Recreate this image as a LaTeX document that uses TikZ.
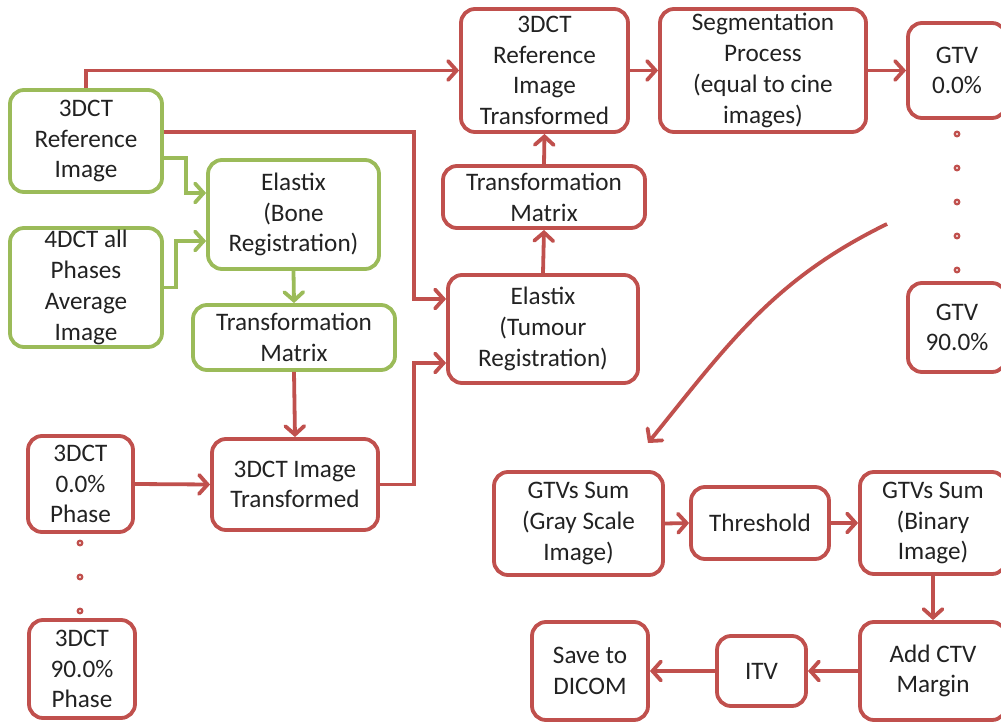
\documentclass[tikz,border=0pt]{standalone}
\usepackage{fontspec}
\setmainfont{Carlito}
\usetikzlibrary{arrows.meta}
\definecolor{cred}{HTML}{C0504D}
\definecolor{cgreen}{HTML}{9BBB59}
\definecolor{ctext}{HTML}{222222}
\tikzset{
  box/.style={draw, rounded corners=14pt, line width=3.8pt, align=center,
    inner sep=0pt, text=ctext, font=\fontsize{25.2}{30.8}\selectfont},
  rbox/.style={box, draw=cred},
  gbox/.style={box, draw=cgreen},
  tip/.style={-{Straight Barb[length=8.5pt,width=19pt,line cap=round]}},
  rarr/.style={tip, draw=cred, line width=3.8pt},
  garr/.style={tip, draw=cgreen, line width=3.8pt},
  dot/.style={draw=cred, fill=white!70!cred, line width=2pt},
}
\begin{document}
\begin{tikzpicture}[x=1pt, y=-1pt]
\useasboundingbox (0,0) rectangle (1001,722);

% registration inputs (bone registration, green)
\node[gbox, minimum width=152pt, minimum height=102pt] (ref) at (86,141) {3DCT\\Reference\\Image};
\node[gbox, minimum width=152pt, minimum height=119pt] (avg) at (86,287.5) {4DCT all\\Phases\\Average\\Image};
\node[gbox, minimum width=171pt, minimum height=109pt] (bone) at (293.5,214.5) {Elastix\\(Bone\\Registration)};
\node[gbox, minimum width=202pt, minimum height=65pt] (tmg) at (294,337.5) {Transformation\\Matrix};

% phase images
\node[rbox, minimum width=105pt, minimum height=96pt] (ph0) at (80.5,484) {3DCT\\0.0\%\\Phase};
\node[rbox, minimum width=106pt, minimum height=98pt] (ph90) at (82,669) {3DCT\\90.0\%\\Phase};
\node[rbox, minimum width=166pt, minimum height=91pt] (imgt) at (295,484.5) {3DCT Image\\Transformed};

% tumour registration
\node[rbox, minimum width=190pt, minimum height=108pt] (elt) at (543,329) {Elastix\\(Tumour\\Registration)};
\node[rbox, minimum width=202pt, minimum height=62pt] (tmr) at (544,197) {Transformation\\Matrix};
\node[rbox, minimum width=167pt, minimum height=123pt] (reft) at (544.5,70.5) {3DCT\\Reference\\Image\\Transformed};
\node[rbox, minimum width=206pt, minimum height=123pt] (seg) at (763,70.5) {Segmentation\\Process\\(equal to cine\\images)};
\node[rbox, minimum width=98pt, minimum height=95pt] (gtv0) at (957,70.5) {GTV\\0.0\%};
\node[rbox, minimum width=98pt, minimum height=89pt] (gtv90) at (957,327.5) {GTV\\90.0\%};

% ITV generation
\node[rbox, minimum width=169pt, minimum height=103pt] (sumg) at (578.5,523.5) {GTVs Sum\\(Gray Scale\\Image)};
\node[rbox, minimum width=138pt, minimum height=72pt] (thr) at (760,523) {Threshold};
\node[rbox, minimum width=146pt, minimum height=102pt] (sumb) at (933,523) {GTVs Sum\\(Binary\\Image)};
\node[rbox, minimum width=146pt, minimum height=98pt] (ctv) at (933,671) {Add CTV\\Margin};
\node[rbox, minimum width=89pt, minimum height=70pt] (itv) at (761.5,671) {ITV};
\node[rbox, minimum width=116pt, minimum height=98pt] (dicom) at (590,671) {Save to\\DICOM};

% connectors
\draw[rarr] (ref.north) |- (reft.west);
\draw[rarr] ([yshift=9pt]ref.east) -- ++(250,0) |- ([yshift=30pt]elt.west);
\draw[garr] ([yshift=-17pt]ref.east) -- ++(22,0) |- ([yshift=21.5pt]bone.west);
\draw[garr] (avg.east) -- ++(12,0) |- ([yshift=-26.5pt]bone.west);
\draw[garr] (bone.south) -- (tmg.north);
\draw[rarr] (tmg.south) -- (imgt.north);
\draw[rarr] (ph0.east) -- (imgt.west);
\draw[rarr] (imgt.east) -- ++(34,0) |- ([yshift=-34pt]elt.west);
\draw[rarr] (elt.north) -- (tmr.south);
\draw[rarr] (tmr.north) -- (reft.south);
\draw[rarr] (reft.east) -- (seg.west);
\draw[rarr] (seg.east) -- (gtv0.west);

\coordinate (cs) at (887,224);
\coordinate (ce) at (648,443);
\draw[rarr] (cs) to[out=206, in=51] (ce);

\draw[rarr] (sumg.east) -- (thr.west);
\draw[rarr] (thr.east) -- (sumb.west);
\draw[rarr] (sumb.south) -- (ctv.north);
\draw[rarr] (ctv.west) -- (itv.east);
\draw[rarr] (itv.west) -- (dicom.east);

% ellipsis dots
\foreach \yy in {134,168,202,236,270} \draw[dot] (957,\yy) circle (2.4pt);
\foreach \yy in {543,577,611} \draw[dot] (80,\yy) circle (2.4pt);
\end{tikzpicture}
\end{document}
